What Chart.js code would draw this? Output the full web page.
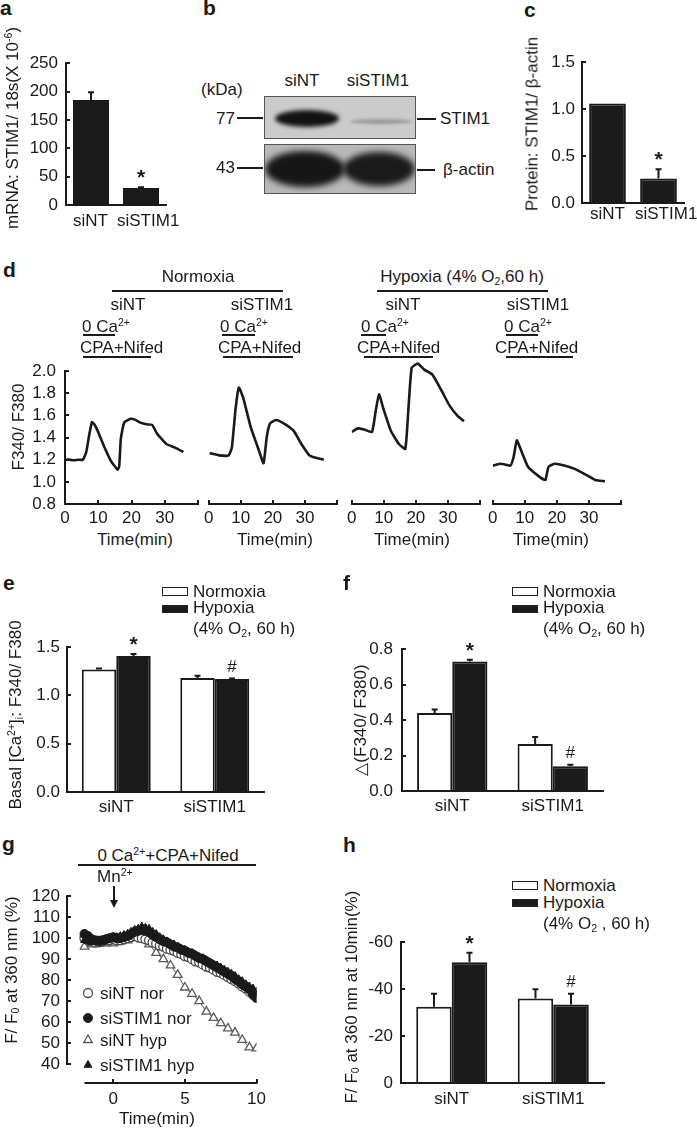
<!DOCTYPE html>
<html><head><meta charset="utf-8">
<script src="https://cdn.jsdelivr.net/npm/chart.js@4/dist/chart.umd.min.js"></script>
<style>
html,body{margin:0;padding:0;background:#fff;}
#root{position:relative;width:697px;height:1129px;overflow:hidden;font-family:"Liberation Sans",Arial,sans-serif;color:#1a1a1a;}
.t{position:absolute;white-space:nowrap;line-height:1;font-size:17px;}
.t sup,.t sub{font-size:0.62em;line-height:0;}
.t sup{vertical-align:0.55em;}
.t sub{vertical-align:-0.25em;}
.ln{position:absolute;background:#1a1a1a;}
canvas{position:absolute;}
.blot{position:absolute;overflow:hidden;border:1.5px solid #555;box-sizing:border-box;}
.band{position:absolute;border-radius:50%;}
</style></head><body><div id="root"></div>
<script>
// ---------------- DATA ----------------
// a: mRNA STIM1/18s
const aCats = ['siNT', 'siSTIM1'];
const aValues = [185, 30];
const aErrors = [14, 1.5];
const aYTicks = [0, 50, 100, 150, 200, 250];
// c: Protein STIM1/beta-actin
const cCats = ['siNT', 'siSTIM1'];
const cValues = [1.06, 0.26];
const cErrors = [0, 0.1];
const cYTicks = [0, 0.5, 1.0, 1.5];
// d: F340/F380 traces
const dXTicks = [0, 10, 20, 30, 40];
const dYTicks = [0.8, 1.0, 1.2, 1.4, 1.6, 1.8, 2.0];
const d1Time = [0.5, 2.5, 4.0, 5.4, 6.4, 7.2, 8.1, 8.8, 9.7, 11.9, 13.8, 15.8, 16.3, 16.8, 17.8, 19.8, 21.2, 22.7, 24.5, 26.2, 27.6, 29, 30.6, 33.1, 35.6];
const d1Ratio = [1.205, 1.195, 1.20, 1.20, 1.27, 1.41, 1.54, 1.52, 1.47, 1.31, 1.19, 1.11, 1.14, 1.39, 1.535, 1.57, 1.56, 1.535, 1.52, 1.515, 1.44, 1.39, 1.34, 1.31, 1.27];
const d2Time = [0.3, 3.3, 6.2, 7.2, 8.4, 9.4, 10.7, 13.1, 15.6, 17.1, 18.1, 19.1, 21.0, 23.5, 26.5, 28.9, 31.4, 33.4, 35.9];
const d2Ratio = [1.224, 1.205, 1.205, 1.27, 1.60, 1.77, 1.69, 1.44, 1.25, 1.14, 1.36, 1.47, 1.50, 1.47, 1.41, 1.30, 1.205, 1.185, 1.17];
const d3Time = [0, 1.9, 3.9, 6.3, 7.5, 8.5, 9.8, 12.2, 14.7, 16.7, 17.7, 18.7, 20.6, 22.6, 25.1, 28.1, 30.5, 33.0, 35.0];
const d3Ratio = [1.40, 1.43, 1.42, 1.40, 1.58, 1.715, 1.60, 1.41, 1.30, 1.26, 1.60, 1.935, 1.97, 1.92, 1.88, 1.74, 1.62, 1.535, 1.49];
const d4Time = [0, 2.6, 5.5, 6.5, 7.5, 8.5, 11.0, 14.4, 16.4, 17.4, 19.4, 22.3, 25.3, 28, 30, 32, 35];
const d4Ratio = [1.12, 1.135, 1.12, 1.19, 1.33, 1.27, 1.11, 1.03, 1.00, 1.11, 1.135, 1.12, 1.095, 1.06, 1.03, 1.00, 0.99];
// e: basal Ca
const grpCats = ['siNT', 'siSTIM1'];
const eNormoxia = [1.27, 1.18];
const eHypoxia = [1.41, 1.17];
const eNormoxiaErr = [0.01, 0.025];
const eHypoxiaErr = [0.02, 0.005];
const eYTicks = [0, 0.5, 1.0, 1.5];
// f: delta F340/F380
const fNormoxia = [0.44, 0.265];
const fHypoxia = [0.73, 0.14];
const fNormoxiaErr = [0.02, 0.04];
const fHypoxiaErr = [0.01, 0.008];
const fYTicks = [0, 0.2, 0.4, 0.6, 0.8];
// g: Mn quench
const gTime = [-2,-1.75,-1.5,-1.25,-1,-0.75,-0.5,-0.25,0,0.25,0.5,0.75,1,1.25,1.5,1.75,2,2.25,2.5,2.75,3,3.25,3.5,3.75,4,4.25,4.5,4.75,5,5.25,5.5,5.75,6,6.25,6.5,6.75,7,7.25,7.5,7.75,8,8.25,8.5,8.75,9,9.25,9.5,9.75,10];
const gSiNTnor = [100,99,98.5,98,98,98.5,99,99,99.5,99,99,99.5,100,100.5,101,100.5,100,99.5,99,98,97.5,96.5,96,95,94.5,94,93,92.5,91.5,91,90,89,88.5,87.5,86.5,86,85,84,83.5,82.5,81.5,80.5,79.5,78.5,77,76,74.5,73,72];
const gSiSTIM1nor = [102,101,99.5,99,98.5,99,99.5,100,100.5,100,100,100.5,101,102,103,103.5,104,103.5,103,101.5,100.5,99.5,98.5,98,97,96,95.5,94.5,94,93,92.5,91.5,90.5,90,89,88,87,86,85,84,83,82,80.5,79.5,78,77,75.5,73.5,71.5];
const gSiSTIM1hyp = [99,98.5,98,98.5,99,99,99.5,100,100,100.5,101,101.5,102,103,104,104.5,105.5,105,104.5,103,102,100.5,99.5,98.5,97.5,97,96,95,94.5,93.5,93,92,91,90.5,89.5,88.5,87.5,87,86,85,84,83,82,80.5,79.5,78,77,76,74.5];
const gTimeHyp = [-2,-1.5,-1,-0.5,0,0.5,1,1.5,2,2.5,3,3.5,4,4.5,5,5.5,6,6.5,7,7.5,8,8.5,9,9.5,10];
const gSiNThyp = [96,97,97.5,97.5,97.5,98.5,99,101.5,99.5,97,93,90,87,82.5,76.5,73.5,70,65,62,59.5,57,55,51.5,48,47.5];
const gXTicks = [0, 5, 10];
const gYTicks = [40, 50, 60, 70, 80, 90, 100, 110, 120];
const gSeriesNames = ['siNT nor', 'siSTIM1 nor', 'siNT hyp', 'siSTIM1 hyp'];
// h: F/F0 at 10 min
const hNormoxia = [-32.5, -36];
const hHypoxia = [-51.5, -33.5];
const hNormoxiaErr = [5.5, 4];
const hHypoxiaErr = [4, 4.5];
const hYTicks = [-60, -40, -20, 0];

// ---------------- HELPERS ----------------
const AX = '#1a1a1a';
const FONT = '"Liberation Sans", Arial, sans-serif';
Chart.defaults.font.family = FONT;
Chart.defaults.font.size = 17;
Chart.defaults.color = AX;
const root = document.getElementById('root');

function text(html, x, baseline, align, fs, bold) {
  fs = fs || 17;
  const d = document.createElement('div');
  d.className = 't';
  d.style.fontSize = fs + 'px';
  if (bold) d.style.fontWeight = 'bold';
  d.innerHTML = html;
  d.style.top = (baseline - 0.8465 * fs) + 'px';
  d.style.left = x + 'px';
  const tx = align === 'c' ? '-50%' : align === 'r' ? '-100%' : '0';
  d.style.transform = 'translateX(' + tx + ')';
  root.appendChild(d);
}
function vtext(html, cx, cy) {
  const d = document.createElement('div');
  d.className = 't';
  d.innerHTML = html;
  d.style.left = cx + 'px'; d.style.top = cy + 'px';
  d.style.transform = 'translate(-50%,-50%) rotate(-90deg)';
  root.appendChild(d);
}
function hline(x1, x2, y, w) {
  const d = document.createElement('div'); d.className = 'ln';
  d.style.left = x1 + 'px'; d.style.top = y + 'px'; d.style.width = (x2 - x1) + 'px'; d.style.height = (w || 2) + 'px';
  root.appendChild(d);
}
function vline(x, y1, y2, w) {
  const d = document.createElement('div'); d.className = 'ln';
  d.style.left = x + 'px'; d.style.top = y1 + 'px'; d.style.width = (w || 2) + 'px'; d.style.height = (y2 - y1) + 'px';
  root.appendChild(d);
}
function rect(x, y, w, h, fill) {
  const d = document.createElement('div');
  d.style.position = 'absolute'; d.style.left = x + 'px'; d.style.top = y + 'px';
  d.style.width = w + 'px'; d.style.height = h + 'px'; d.style.boxSizing = 'border-box';
  d.style.border = '1.5px solid #222'; d.style.background = fill;
  root.appendChild(d);
}

const errPlugin = {
  id: 'errbars',
  afterDatasetsDraw(chart, args, opts) {
    if (!opts || !opts.errors) return;
    const ctx = chart.ctx, ys = chart.scales.y;
    opts.errors.forEach((errs, di) => {
      const meta = chart.getDatasetMeta(di);
      meta.data.forEach((bar, j) => {
        const v = chart.data.datasets[di].data[j];
        const e = errs[j] || 0;
        const yTop = ys.getPixelForValue(v + Math.sign(v) * e);
        ctx.save();
        ctx.strokeStyle = AX; ctx.lineWidth = 2;
        if (e > 0) {
          ctx.beginPath();
          ctx.moveTo(bar.x, bar.y); ctx.lineTo(bar.x, yTop);
          ctx.moveTo(bar.x - 3, yTop); ctx.lineTo(bar.x + 3, yTop);
          ctx.stroke();
        }
        const m = opts.marks && opts.marks[di] && opts.marks[di][j];
        if (m) {
          ctx.fillStyle = AX; ctx.textAlign = 'center'; ctx.textBaseline = 'alphabetic';
          if (m === '*') { ctx.font = 'bold 21px ' + FONT; ctx.fillText(m, bar.x, yTop - 3); }
          else { ctx.font = '17px ' + FONT; ctx.fillText(m, bar.x, yTop - 7); }
        }
        ctx.restore();
      });
    });
  }
};

function fixedTicks(arr) { return s => { s.ticks = arr.map(v => ({ value: v })); }; }

function makeChart(area, pads, config, yShown, xShown) {
  const cv = document.createElement('canvas');
  const w = area.r - area.l + pads.l + pads.r;
  const h = area.b - area.t + pads.t + pads.b;
  cv.width = w; cv.height = h;
  cv.style.left = (area.l - pads.l) + 'px'; cv.style.top = (area.t - pads.t) + 'px';
  cv.style.width = w + 'px'; cv.style.height = h + 'px';
  root.appendChild(cv);
  const o = config.options;
  o.responsive = false; o.animation = false; o.devicePixelRatio = 1;
  o.layout = { padding: { top: pads.t, right: pads.r, left: yShown ? 0 : pads.l, bottom: xShown ? 0 : pads.b } };
  if (yShown) o.scales.y.afterFit = s => { s.width = pads.l; };
  if (xShown) o.scales.x.afterFit = s => { s.height = pads.b; };
  o.plugins = Object.assign({ legend: { display: false }, tooltip: { enabled: false }, title: { display: false } }, o.plugins || {});
  return new Chart(cv, config);
}

function yAxis(ticksArr, min, max, fmt, padding, extra) {
  return Object.assign({
    type: 'linear', min: min, max: max,
    afterBuildTicks: fixedTicks(ticksArr),
    ticks: { color: AX, font: { size: 17 }, padding: padding, callback: fmt, autoSkip: false },
    grid: { drawOnChartArea: false, drawTicks: true, tickLength: -4, color: AX, lineWidth: 2 },
    border: { display: true, color: AX, width: 2 }
  }, extra || {});
}
function catAxis(padding, showLabels) {
  return {
    type: 'category', offset: true,
    grid: { display: true, drawOnChartArea: false, drawTicks: false, color: 'rgba(0,0,0,0)' },
    border: { display: true, color: AX, width: 2 },
    ticks: { display: showLabels !== false, color: AX, font: { size: 17 }, padding: padding, autoSkip: false, maxRotation: 0, minRotation: 0 }
  };
}
const f1 = v => Number(v).toFixed(1);
const f0 = v => String(v);

function barSet(data, fill, cp) {
  return { data: data, backgroundColor: fill, borderColor: AX, borderWidth: 2, categoryPercentage: cp, barPercentage: 1.0 };
}

// ---------------- PANEL a ----------------
makeChart({ l: 66, t: 53, r: 166, b: 205 }, { l: 50, t: 12, r: 12, b: 30 }, {
  type: 'bar',
  data: { labels: aCats, datasets: [barSet(aValues, '#1a1a1a', 0.72)] },
  options: {
    scales: { x: catAxis(5, false), y: yAxis(aYTicks, 0, 250, f0, 12) },
    plugins: { errbars: { errors: [aErrors], marks: [[null, '*']] } }
  },
  plugins: [errPlugin]
}, true, true);
// category labels of a (placed as in the figure, slightly off-centre)
text(aCats[0], 73, 226);
text(aCats[1], 117, 226);

// ---------------- PANEL c ----------------
makeChart({ l: 582, t: 53, r: 684, b: 203 }, { l: 50, t: 12, r: 12, b: 30 }, {
  type: 'bar',
  data: { labels: cCats, datasets: [barSet(cValues, '#1a1a1a', 0.72)] },
  options: {
    scales: { x: catAxis(5, false), y: yAxis(cYTicks, 0, 1.5, f1, 11) },
    plugins: { errbars: { errors: [cErrors], marks: [[null, '*']] } }
  },
  plugins: [errPlugin]
}, true, true);
text(cCats[0], 590, 219);
text(cCats[1], 635, 219);

// ---------------- PANEL d ----------------
function traceChart(area, times, ratios, showY) {
  const xs = {
    type: 'linear', min: 0, max: 40,
    afterBuildTicks: fixedTicks(dXTicks),
    ticks: { color: AX, font: { size: 17 }, padding: 8, autoSkip: false, maxRotation: 0, callback: v => (v === 40 ? '' : String(v)) },
    grid: { drawOnChartArea: false, drawTicks: true, tickLength: -4, color: AX, lineWidth: 2 },
    border: { display: true, color: AX, width: 2 }
  };
  const ysc = yAxis(dYTicks, 0.8, 2.0, f1, 13, { display: showY });
  makeChart(area, { l: showY ? 50 : 8, t: 12, r: 6, b: 26 }, {
    type: 'line',
    data: { datasets: [{ data: times.map((t, i) => ({ x: t, y: ratios[i] })), borderColor: AX, borderWidth: 2.6, pointRadius: 0, tension: 0.15, fill: false }] },
    options: { scales: { x: xs, y: ysc } }
  }, showY, true);
}
traceChart({ l: 65, t: 360, r: 200, b: 504 }, d1Time, d1Ratio, true);
traceChart({ l: 204, t: 360, r: 339, b: 504 }, d2Time, d2Ratio, false);
traceChart({ l: 347, t: 360, r: 482, b: 504 }, d3Time, d3Ratio, false);
traceChart({ l: 488, t: 360, r: 623, b: 504 }, d4Time, d4Ratio, false);

// ---------------- PANEL e ----------------
makeChart({ l: 67, t: 638, r: 264, b: 792 }, { l: 50, t: 12, r: 12, b: 30 }, {
  type: 'bar',
  data: { labels: grpCats, datasets: [barSet(eNormoxia, '#ffffff', 0.7), barSet(eHypoxia, '#1a1a1a', 0.7)] },
  options: {
    scales: { x: catAxis(5), y: yAxis(eYTicks, 0, 1.5, f1, 11) },
    plugins: { errbars: { errors: [eNormoxiaErr, eHypoxiaErr], marks: [[], ['*', '#']] } }
  },
  plugins: [errPlugin]
}, true, true);

// ---------------- PANEL f ----------------
makeChart({ l: 402, t: 638, r: 603, b: 791 }, { l: 50, t: 12, r: 12, b: 30 }, {
  type: 'bar',
  data: { labels: grpCats, datasets: [barSet(fNormoxia, '#ffffff', 0.7), barSet(fHypoxia, '#1a1a1a', 0.7)] },
  options: {
    scales: { x: catAxis(5), y: yAxis(fYTicks, 0, 0.8, f1, 13) },
    plugins: { errbars: { errors: [fNormoxiaErr, fHypoxiaErr], marks: [[], ['*', '#']] } }
  },
  plugins: [errPlugin]
}, true, true);

// ---------------- PANEL h ----------------
makeChart({ l: 401, t: 932, r: 604, b: 1083 }, { l: 50, t: 12, r: 12, b: 30 }, {
  type: 'bar',
  data: { labels: grpCats, datasets: [barSet(hNormoxia, '#ffffff', 0.7), barSet(hHypoxia, '#1a1a1a', 0.7)] },
  options: {
    scales: { x: catAxis(6), y: yAxis(hYTicks, -60, 0, f0, 12, { reverse: true }) },
    plugins: { errbars: { errors: [hNormoxiaErr, hHypoxiaErr], marks: [[], ['*', '#']] } }
  },
  plugins: [errPlugin]
}, true, true);

// ---------------- PANEL g ----------------
const gArea = { l: 67, t: 887, r: 262, b: 1083 };
const gPads = { l: 50, t: 12, r: 14, b: 30 };
const gAxesPlugin = {
  id: 'gAxes',
  afterDraw(chart) {
    const ctx = chart.ctx, xs = chart.scales.x, ys = chart.scales.y, a = chart.chartArea;
    ctx.save(); ctx.strokeStyle = AX; ctx.lineWidth = 2;
    ctx.beginPath();
    ctx.moveTo(a.left, ys.getPixelForValue(120) - 1); ctx.lineTo(a.left, ys.getPixelForValue(40) + 1);
    ctx.moveTo(xs.getPixelForValue(-2), a.bottom); ctx.lineTo(xs.getPixelForValue(10) + 1, a.bottom);
    ctx.stroke();
    // legend
    const ox = gArea.l - gPads.l, oy = gArea.t - gPads.t;
    const lx = 88 - ox, ly = [993, 1018, 1040, 1065];
    [0, 1, 2, 3].forEach((di, k) => {
      const ds = chart.data.datasets[di];
      ctx.fillStyle = ds.pointBackgroundColor; ctx.strokeStyle = ds.pointBorderColor; ctx.lineWidth = ds.pointBorderWidth;
      Chart.helpers.drawPoint(ctx, { pointStyle: ds.pointStyle, radius: ds.pointRadius, borderWidth: ds.pointBorderWidth, rotation: 0 }, lx, ly[k] - oy);
      ctx.fillStyle = AX; ctx.font = '17px ' + FONT; ctx.textAlign = 'left'; ctx.textBaseline = 'alphabetic';
      ctx.fillText(gSeriesNames[di], 100 - ox, ly[k] - oy + 6);
    });
    ctx.restore();
  }
};
makeChart(gArea, gPads, {
  type: 'line',
  data: { datasets: [
    { label: gSeriesNames[0], data: gTime.map((t, i) => ({ x: t, y: gSiNTnor[i] })), pointStyle: 'circle', pointRadius: 4.5, pointBackgroundColor: '#ffffff', pointBorderColor: '#4a4a4a', pointBorderWidth: 1.3, borderColor: '#4a4a4a', borderWidth: 1, order: 2 },
    { label: gSeriesNames[1], data: gTime.map((t, i) => ({ x: t, y: gSiSTIM1nor[i] })), pointStyle: 'circle', pointRadius: 4.5, pointBackgroundColor: '#1a1a1a', pointBorderColor: '#1a1a1a', pointBorderWidth: 1, borderColor: '#1a1a1a', borderWidth: 1, order: 1 },
    { label: gSeriesNames[2], data: gTimeHyp.map((t, i) => ({ x: t, y: gSiNThyp[i] })), pointStyle: 'triangle', pointRadius: 5, pointBackgroundColor: '#ffffff', pointBorderColor: '#5a5a5a', pointBorderWidth: 1.3, borderColor: '#5a5a5a', borderWidth: 1, order: 3 },
    { label: gSeriesNames[3], data: gTime.map((t, i) => ({ x: t, y: gSiSTIM1hyp[i] })), pointStyle: 'triangle', pointRadius: 4.5, pointBackgroundColor: '#1a1a1a', pointBorderColor: '#1a1a1a', pointBorderWidth: 1, borderColor: '#1a1a1a', borderWidth: 1, order: 0 }
  ] },
  options: {
    scales: {
      x: {
        type: 'linear', min: -3.22, max: 10,
        afterBuildTicks: fixedTicks(gXTicks),
        ticks: { color: AX, font: { size: 17 }, padding: 10, autoSkip: false, maxRotation: 0 },
        grid: { drawOnChartArea: false, drawTicks: true, tickLength: -4, color: AX, lineWidth: 2 },
        border: { display: false }
      },
      y: yAxis(gYTicks, 31, 120, f0, 11, { border: { display: false } })
    }
  },
  plugins: [gAxesPlugin]
}, true, true);

// ---------------- TEXT & ANNOTATIONS ----------------
text('a', 0, 15, 'l', 21, true);
text('b', 203, 15, 'l', 21, true);
text('c', 524, 17, 'l', 21, true);
text('d', 3, 277, 'l', 21, true);
text('e', 3, 590, 'l', 21, true);
text('f', 343, 590, 'l', 21, true);
text('g', 2, 851, 'l', 21, true);
text('h', 343, 852, 'l', 21, true);

vtext('mRNA: STIM1/ 18s(X 10<sup>-6</sup>)', 12, 128);
vtext('Protein: STIM1/ β-actin', 532, 124);
vtext('F340/ F380', 18, 427);
vtext('Basal [Ca<sup>2+</sup>]<sub>i</sub>: F340/ F380', 15, 715);
vtext('△(F340/ F380)', 360, 720);
vtext('F/ F<sub>0</sub> at 360 nm (%)', 11, 970);
vtext('F/ F<sub>0</sub> at 360 nm at 10min(%)', 351, 997);

// panel b: western blot
(function () {
  function blot(x, y, w, h, bg) {
    const d = document.createElement('div'); d.className = 'blot';
    d.style.left = x + 'px'; d.style.top = y + 'px'; d.style.width = w + 'px'; d.style.height = h + 'px';
    d.style.background = bg; root.appendChild(d); return d;
  }
  function band(parent, cx, cy, w, h, color, blur) {
    const b = document.createElement('div'); b.className = 'band';
    b.style.left = (cx - w / 2) + 'px'; b.style.top = (cy - h / 2) + 'px';
    b.style.width = w + 'px'; b.style.height = h + 'px'; b.style.background = color;
    b.style.filter = 'blur(' + blur + 'px)'; parent.appendChild(b);
  }
  const top = blot(264, 96, 152, 43, '#cbcbcb');
  band(top, 42, 21, 64, 17, '#121212', 2);
  band(top, 116, 24, 62, 5, '#999999', 1.5);
  const bot = blot(264, 144, 152, 50, '#b9b9b9');
  band(bot, 40, 24, 80, 36, '#161616', 3);
  band(bot, 114, 24, 72, 34, '#1a1a1a', 3);
})();
text('(kDa)', 201, 95);
text('siNT', 302, 86, 'c');
text('siSTIM1', 378, 86, 'c');
text('77', 235, 124, 'r');
hline(237, 263, 117, 1.5);
text('43', 235, 173, 'r');
hline(237, 263, 167, 1.5);
hline(417, 436, 118, 1.5);
text('STIM1', 440, 124);
hline(417, 435, 169, 1.5);
text('β-actin', 443, 175);

// panel d headers
text('Normoxia', 198, 282, 'c');
hline(112, 283, 290);
text('siNT', 128, 310, 'c');
text('siSTIM1', 262, 310, 'c');
text('Hypoxia (4% O<sub>2</sub>,60 h)', 462, 282, 'c');
hline(377, 548, 290);
text('siNT', 403, 310, 'c');
text('siSTIM1', 538, 310, 'c');
[[82, 83, 115, 80, 83, 151], [220, 222, 255, 218, 223, 293], [361, 361, 386, 357, 364, 433], [504, 506, 538, 495, 506, 573]].forEach(p => {
  text('0 Ca<sup>2+</sup>', p[0], 332);
  hline(p[1], p[2], 334);
  text('CPA+Nifed', p[3], 353);
  hline(p[4], p[5], 356);
});
[135, 275, 412, 551].forEach(cx => text('Time(min)', cx, 545, 'c'));

// legends e, f, h
function barLegend(rx, tx, y1, b1, y2, b2, b3, third) {
  rect(rx, y1, 26, 9, '#ffffff');
  text('Normoxia', tx, b1);
  rect(rx, y2, 26, 8, '#1a1a1a');
  text('Hypoxia', tx, b2);
  text(third, tx, b3);
}
barLegend(162, 193, 587, 597, 605, 613, 634, '(4% O<sub>2</sub>, 60 h)');
barLegend(512, 543, 587, 597, 605, 613, 634, '(4% O<sub>2</sub>, 60 h)');
barLegend(512, 543, 881, 891, 899, 908, 929, '(4% O<sub>2</sub> , 60 h)');

// panel g header
text('0 Ca<sup>2+</sup>+CPA+Nifed', 168, 861, 'c');
hline(78, 256, 864);
text('Mn<sup>2+</sup>', 97, 882);
vline(113, 886, 902);
(function () {
  const a = document.createElement('div');
  a.style.position = 'absolute'; a.style.left = '110px'; a.style.top = '900px';
  a.style.width = '0'; a.style.height = '0';
  a.style.borderLeft = '4px solid transparent'; a.style.borderRight = '4px solid transparent';
  a.style.borderTop = '8px solid #1a1a1a';
  root.appendChild(a);
})();
text('Time(min)', 157, 1124, 'c');
</script></body></html>
